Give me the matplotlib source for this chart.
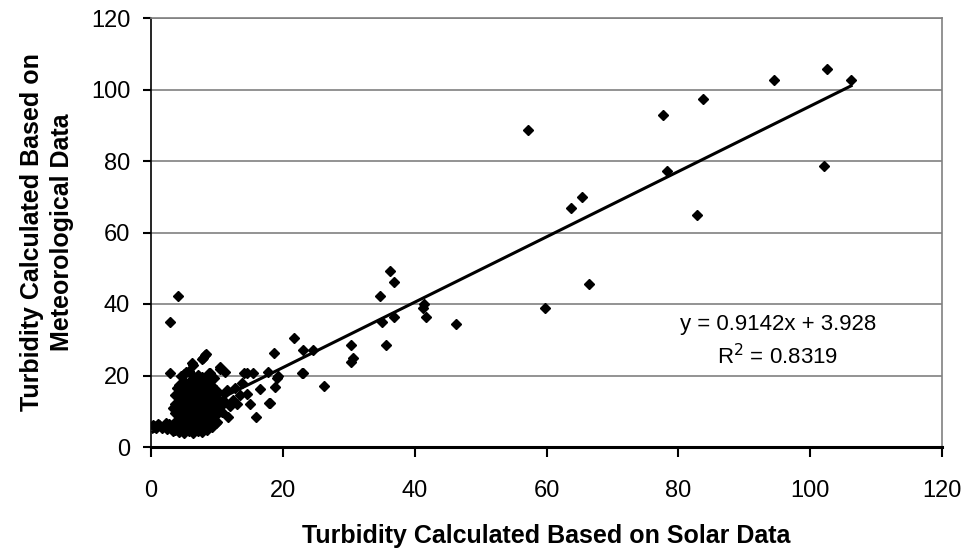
import matplotlib
matplotlib.use("Agg")
import matplotlib.pyplot as plt
import numpy as np

plt.rcParams['font.family'] = ['Liberation Sans', 'DejaVu Sans']

# Turbidity calculated based on solar data (x) and meteorological data (y)
solar_tail = [0.3, 0.5, 0.8, 1.0, 1.2, 1.6, 2.0, 2.2, 2.4, 2.8, 3.1, 3.3]
meteo_tail = [6.2, 5.8, 5.2, 6.5, 6.1, 5.4, 5.9, 6.8, 5.1, 6.3, 5.5, 4.6]

solar_core = [3.6, 3.6, 3.6, 3.6, 3.6,
              4.3, 4.3, 4.3, 4.3, 4.3, 4.3, 4.3,
              5.0, 5.0, 5.0, 5.0, 5.0, 5.0, 5.0, 5.0, 5.0,
              5.7, 5.7, 5.7, 5.7, 5.7, 5.7, 5.7, 5.7,
              6.4, 6.4, 6.4, 6.4, 6.4, 6.4, 6.4, 6.4, 6.4,
              7.1, 7.1, 7.1, 7.1, 7.1, 7.1, 7.1, 7.1,
              7.8, 7.8, 7.8, 7.8, 7.8, 7.8, 7.8, 7.8,
              8.5, 8.5, 8.5, 8.5, 8.5, 8.5, 8.5,
              9.2, 9.2, 9.2, 9.2, 9.2, 9.2,
              9.9, 9.9, 9.9, 9.9, 9.9,
              3.9, 4.6, 3.4, 6.0, 10.5, 10.2, 10.8, 9.6, 8.8]
meteo_core = [4.8, 7.0, 9.5, 12.0, 14.5,
              4.2, 6.1, 8.3, 10.6, 13.0, 15.2, 17.4,
              3.8, 5.5, 7.6, 9.8, 11.9, 14.1, 16.4, 18.6, 20.5,
              4.4, 6.4, 8.7, 10.9, 13.2, 15.6, 17.8, 21.2,
              3.9, 5.8, 7.9, 10.1, 12.4, 14.7, 16.9, 19.3, 22.8,
              4.5, 6.7, 9.0, 11.3, 13.6, 15.9, 18.2, 20.1,
              4.1, 6.0, 8.2, 10.4, 12.7, 14.9, 17.1, 19.5,
              4.8, 7.1, 9.4, 11.6, 13.9, 16.2, 18.5,
              5.5, 7.7, 10.0, 12.3, 14.6, 17.0,
              6.6, 8.9, 11.4, 13.8, 16.0,
              16.4, 19.8, 11.0, 20.4, 12.2, 15.0, 9.8, 19.2, 20.6]

solar_mid = [2.9, 5.3, 6.2, 7.8, 8.2, 7.9, 8.4, 9.0, 10.5, 11.3, 10.5,
             11.3, 11.5, 12.5, 13.5, 10.5, 11.7, 10.0, 13.8, 14.1, 15.5, 14.6,
             15.9, 15.0, 16.5, 17.9, 17.8, 19.1, 18.8, 22.9, 14.6, 12.0, 12.8,
             11.0, 13.0, 18.1, 19.3, 23.0, 26.2, 18.6, 21.7, 23.1, 24.6,
             2.9, 4.1]
meteo_mid = [20.7, 21.0, 23.5, 24.6, 25.7, 25.0, 26.0, 20.7, 21.8, 21.0, 22.4,
             15.1, 16.0, 13.1, 14.5, 11.2, 8.4, 7.0, 17.9, 20.7, 20.7, 20.7,
             8.4, 12.0, 16.2, 12.3, 21.0, 19.3, 16.8, 20.7, 14.8, 11.5, 16.5,
             13.0, 12.0, 12.3, 19.9, 20.7, 17.1, 26.3, 30.5, 27.1, 27.1,
             35.0, 42.2]

solar_high = [30.4, 30.6, 30.3, 35.6, 35.0, 36.8, 34.7, 36.3, 36.8, 41.4, 41.2,
              41.7, 46.2, 59.8, 66.5, 63.7, 65.4, 57.2, 82.9, 78.3, 77.6, 83.8,
              94.5, 102.5, 106.2, 102.1]
meteo_high = [28.5, 24.9, 23.8, 28.5, 35.0, 36.4, 42.2, 49.2, 46.2, 40.0, 38.9,
              36.4, 34.4, 38.9, 45.6, 66.9, 69.9, 88.7, 64.9, 77.2, 93.0, 97.4,
              102.7, 105.7, 102.7, 78.6]

solar = np.array(solar_tail + solar_core + solar_mid + solar_high)
meteo = np.array(meteo_tail + meteo_core + meteo_mid + meteo_high)

slope, intercept, r2 = 0.9142, 3.928, 0.8319

x_ticks = [0, 20, 40, 60, 80, 100, 120]
y_ticks = [0, 20, 40, 60, 80, 100, 120]

fig = plt.figure(figsize=(9.66, 5.48), dpi=100)
ax = fig.add_axes([151/966, 1-447/548, (942-151)/966, (447-18)/548])

ax.set_xlim(0, 120)
ax.set_ylim(0, 120)
ax.set_xticks(x_ticks)
ax.set_yticks(y_ticks)

for yv in y_ticks[1:]:
    ax.axhline(yv, color='#808080', lw=1.2, zorder=1)

ax.plot(solar, meteo, linestyle='none', marker='D', color='black',
        markersize=5.6, zorder=3)

xl = np.array([solar.min(), solar.max()])
ax.plot(xl, slope*xl + intercept, color='black', lw=2.2, zorder=4)

ax.text(95.1, 34.4, 'y = 0.9142x + 3.928', ha='center', va='center', fontsize=16)
ax.text(95.1, 25.3, 'R$^2$ = %.4f' % r2, ha='center', va='center', fontsize=16)

for s in ['top', 'right']:
    ax.spines[s].set_color('#808080')
    ax.spines[s].set_linewidth(1.2)
ax.spines['left'].set_color('black')
ax.spines['left'].set_linewidth(1.2)
ax.spines['bottom'].set_color('black')
ax.spines['bottom'].set_linewidth(2.2)
ax.spines['bottom'].set_zorder(5)

ax.tick_params(axis='both', direction='out', width=1.5, labelsize=17,
               color='black')
ax.tick_params(axis='x', length=7, pad=17)
ax.tick_params(axis='y', length=6, pad=9)

ax.set_xlabel('Turbidity Calculated Based on Solar Data', fontsize=18,
              fontweight='bold')
ax.set_ylabel('Turbidity Calculated Based on\nMeteorological Data', fontsize=18,
              fontweight='bold', linespacing=1.3)
ax.xaxis.set_label_coords(0.5, (447-524)/429)
ax.yaxis.set_label_coords((74-151)/791, 0.5)

fig.savefig('out.png', dpi=100)
